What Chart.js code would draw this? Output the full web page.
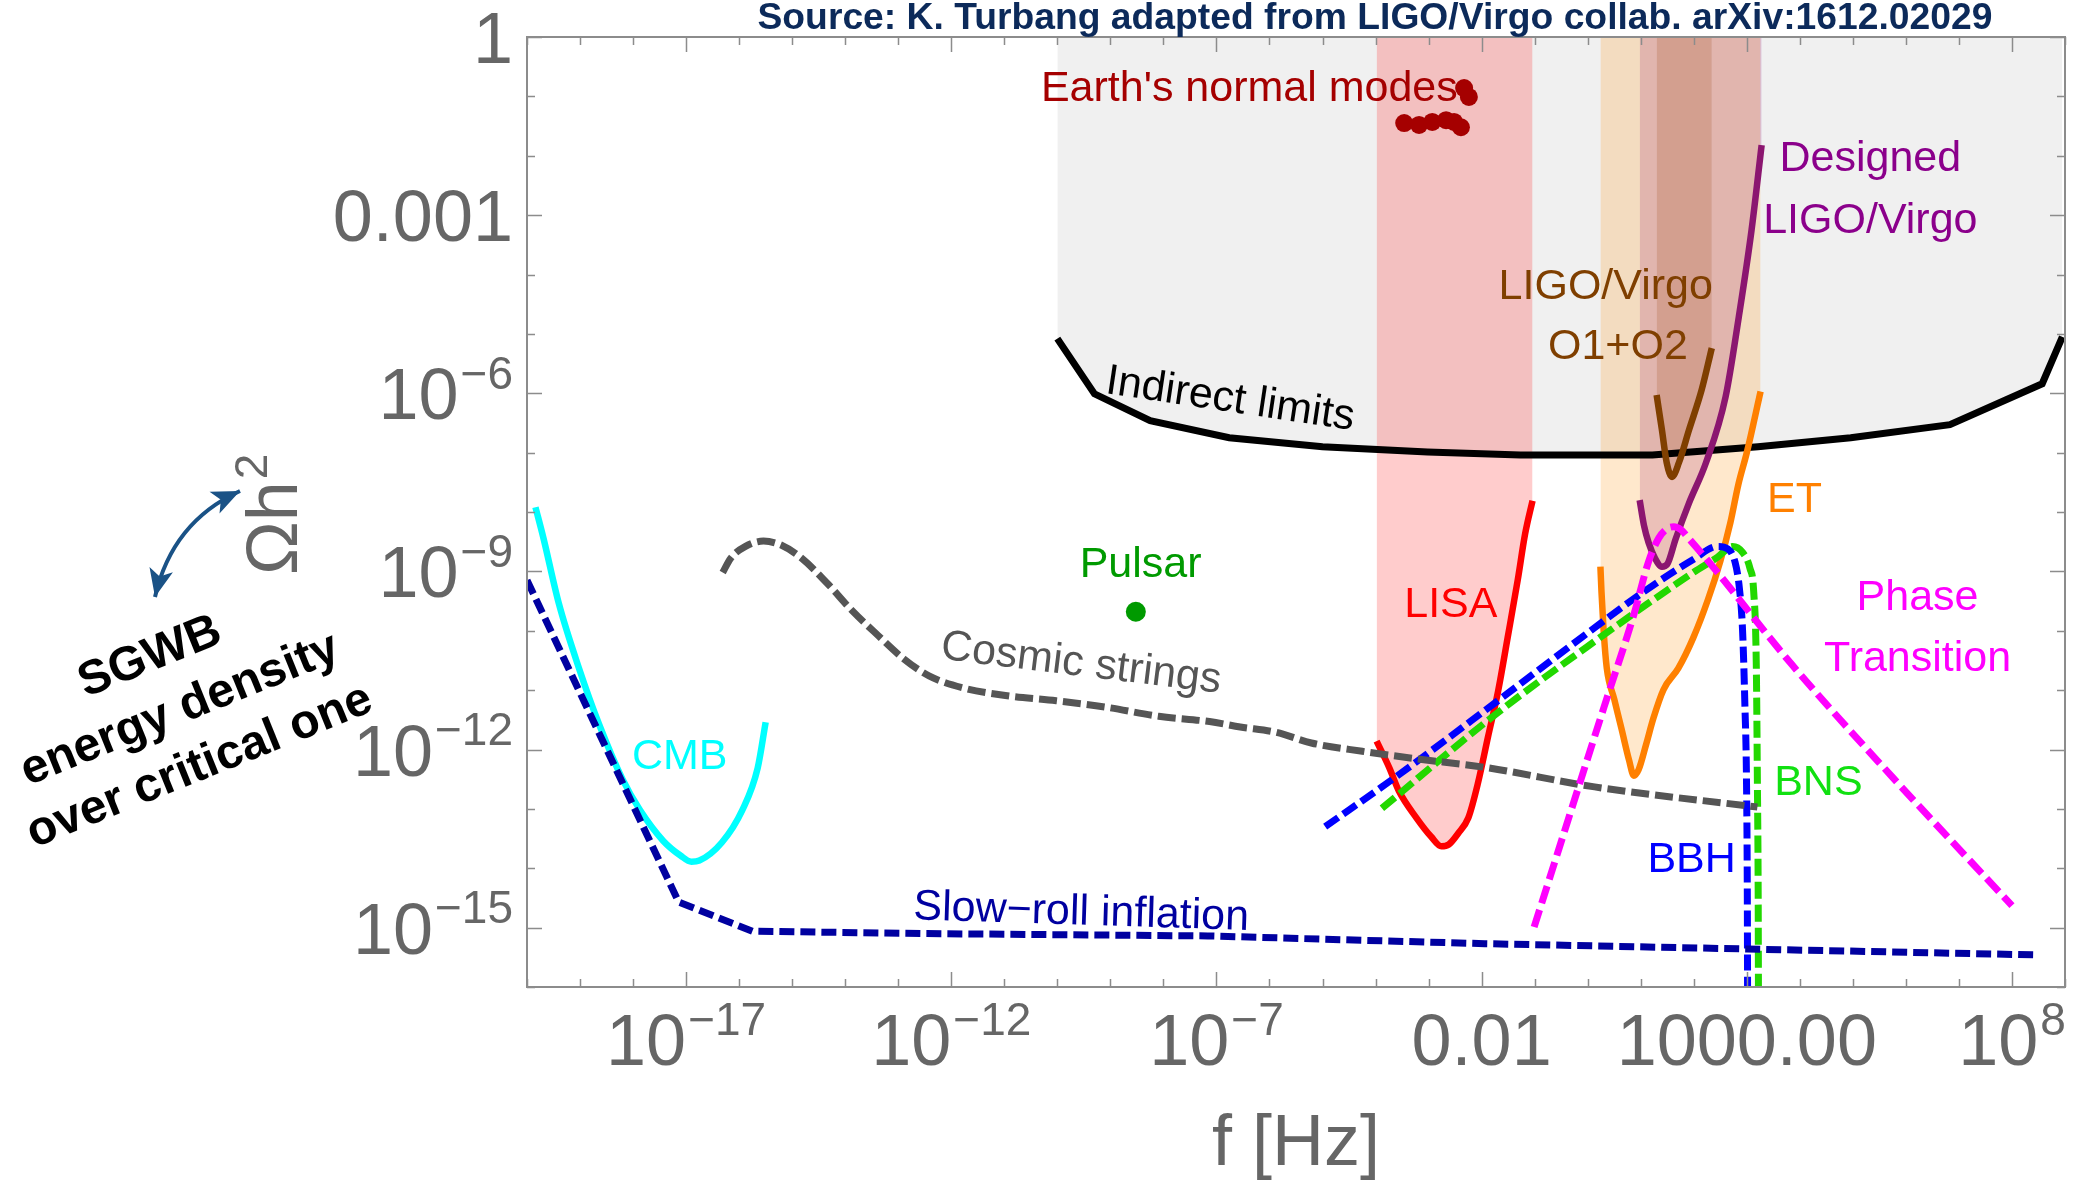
<!DOCTYPE html>
<html>
<head>
<meta charset="utf-8">
<script src="https://cdn.jsdelivr.net/npm/chart.js@4.4.1/dist/chart.umd.min.js"></script>
<style>
  html, body { margin: 0; padding: 0; background: #fff; }
  canvas { display: block; }
</style>
</head>
<body>
<canvas id="gw" width="2075" height="1186"></canvas>
<script>
// every point is [log10 f (Hz), log10 Omega h^2]
const INDIRECT = [[-10.0,-5.08],[-9.30,-6.01],[-8.25,-6.46],[-6.76,-6.75],[-5.0,-6.90],[-3.02,-6.99],[-1.27,-7.04],[1.22,-7.04],[3.21,-6.90],[4.96,-6.75],[6.83,-6.53],[8.57,-5.84],[8.95,-5.05]]
const SLOWROLL = [[-20.0,-9.15],[-17.14,-14.57],[-15.75,-15.06],[-12.5,-15.10],[-7.16,-15.14],[-1.94,-15.27],[3.0,-15.36],[8.47,-15.46]]
const CMB = [[-19.84,-7.92],[-19.69,-8.44],[-19.40,-9.54],[-19.02,-10.63],[-18.63,-11.60],[-18.20,-12.50],[-17.87,-13.02],[-17.43,-13.54],[-17.10,-13.79],[-16.90,-13.89],[-16.75,-13.87],[-16.33,-13.57],[-15.94,-13.02],[-15.65,-12.31],[-15.50,-11.54]]
const COSMIC = [[-16.31,-9.02],[-16.16,-8.78],[-15.88,-8.58],[-15.54,-8.49],[-15.20,-8.56],[-14.82,-8.78],[-14.34,-9.20],[-13.86,-9.67],[-13.38,-10.08],[-12.90,-10.47],[-12.42,-10.76],[-11.74,-10.97],[-10.98,-11.09],[-10.02,-11.18],[-9.06,-11.29],[-8.09,-11.44],[-7.13,-11.53],[-6.55,-11.62],[-5.88,-11.71],[-5.21,-11.89],[-4.25,-12.03],[-3.29,-12.15],[-1.94,-12.30],[0.13,-12.63],[3.20,-12.97]]
const LISA = [[-3.98,-11.86],[-3.74,-12.31],[-3.56,-12.70],[-3.23,-13.15],[-2.95,-13.47],[-2.76,-13.63],[-2.62,-13.60],[-2.44,-13.41],[-2.25,-13.15],[-2.07,-12.57],[-1.88,-11.79],[-1.69,-11.02],[-1.51,-10.12],[-1.32,-9.15],[-1.18,-8.37],[-1.04,-7.81]]
const ET = [[0.24,-8.92],[0.26,-9.34],[0.30,-9.99],[0.36,-10.63],[0.50,-11.15],[0.64,-11.66],[0.78,-12.18],[0.87,-12.44],[0.96,-12.34],[1.10,-11.92],[1.24,-11.47],[1.43,-10.99],[1.71,-10.63],[1.99,-10.12],[2.27,-9.47],[2.50,-8.83],[2.69,-8.18],[2.84,-7.54],[3.0,-7.0],[3.26,-5.97]]
const DESIGNED = [[0.98,-7.80],[1.06,-8.22],[1.15,-8.52],[1.27,-8.78],[1.40,-8.92],[1.50,-8.88],[1.66,-8.45],[1.91,-7.85],[2.23,-7.17],[2.60,-6.06],[2.85,-4.71],[3.09,-3.25],[3.28,-1.82]]
const O1O2 = [[1.30,-6.03],[1.40,-6.62],[1.49,-7.17],[1.59,-7.41],[1.72,-7.17],[1.91,-6.62],[2.15,-5.94],[2.34,-5.24]]
const BBH = [[-4.95,-13.30],[-3.60,-12.45],[-1.74,-11.21],[0.13,-9.95],[1.06,-9.34],[1.99,-8.80],[2.45,-8.58],[2.64,-8.62],[2.78,-8.85],[2.86,-9.28],[2.92,-9.99],[2.965,-11.28],[2.995,-12.57],[3.01,-14.5],[3.015,-16.2]]
const BNS = [[-3.88,-12.99],[-1.74,-11.41],[0.13,-10.18],[1.99,-9.02],[2.45,-8.76],[2.73,-8.58],[2.92,-8.68],[3.06,-8.95],[3.13,-9.34],[3.18,-10.63],[3.20,-12.57],[3.215,-14.5],[3.22,-16.2]]
const PHASE = [[-1.01,-14.99],[0.31,-11.28],[0.87,-9.73],[1.15,-8.83],[1.34,-8.44],[1.50,-8.28],[1.62,-8.25],[1.76,-8.30],[1.90,-8.44],[2.20,-8.75],[2.45,-9.02],[3.85,-10.57],[5.72,-12.44],[8.0,-14.63]]
const PULSAR = [[-8.52,-9.68]]
const EARTH = [[-3.46,-1.45],[-3.18,-1.48],[-2.93,-1.43],[-2.67,-1.40],[-2.52,-1.43],[-2.39,-1.52],[-2.33,-0.86],[-2.24,-1.01]]

// tick labels: [exponent, base text, superscript]
const X_TICKS = [[-17,'10','−17'],[-12,'10','−12'],[-7,'10','−7'],[-2,'0.01',''],[3,'1000.00',''],[8,'10','8']]
const Y_TICKS = [[0,'1',''],[-3,'0.001',''],[-6,'10','−6'],[-9,'10','−9'],[-12,'10','−12'],[-15,'10','−15']]

// curve labels: [text, log f, log Omega, colour, rotation in degrees]
const LABELS = [
  ["Earth's normal modes", -6.38, -0.88, '#a50000', 0],
  ['Designed', 5.33, -2.05, '#8b008b', 0],
  ['LIGO/Virgo', 5.33, -3.10, '#8b008b', 0],
  ['LIGO/Virgo', 0.34, -4.21, '#7f3f00', 0],
  ['O1+O2', 0.57, -5.22, '#7f3f00', 0],
  ['Indirect limits', -6.74, -6.11, '#000000', 8.5],
  ['ET', 3.90, -7.80, '#ff8000', 0],
  ['Pulsar', -8.43, -8.89, '#009a00', 0],
  ['LISA', -2.58, -9.57, '#ff0000', 0],
  ['Phase', 6.22, -9.45, '#ff00ff', 0],
  ['Transition', 6.22, -10.48, '#ff00ff', 0],
  ['Cosmic strings', -9.55, -10.56, '#555555', 7],
  ['CMB', -17.12, -12.13, '#00ffff', 0],
  ['BNS', 4.35, -12.56, '#11e011', 0],
  ['BBH', 1.96, -13.86, '#0000ff', 0],
  ['Slow−roll inflation', -9.55, -14.75, '#0000a0', 1.8]
]

const SANS = "'Liberation Sans', Arial, sans-serif"
const pts = arr => arr.map(([lf, lo]) => ({ x: 10 ** lf, y: 10 ** lo }))

function curve(data, color, width, dash, extra) {
  return Object.assign({
    data: pts(data),
    borderColor: color,
    borderWidth: width,
    borderDash: dash || [],
    pointRadius: 0,
    fill: false,
    cubicInterpolationMode: 'monotone',
  }, extra || {})
}

function dots(data, color, r) {
  return {
    data: pts(data),
    showLine: false,
    pointRadius: r,
    pointBorderWidth: 0,
    pointBackgroundColor: color,
    borderColor: color,
  }
}

// "10" with a raised exponent
function supText(ctx, base, sup, x, y, align, size) {
  const ss = Math.round(size * 0.64)
  ctx.font = size + 'px ' + SANS
  const wb = ctx.measureText(base).width
  ctx.font = ss + 'px ' + SANS
  const ws = sup ? ctx.measureText(sup).width + 2 : 0
  const w = wb + ws
  const x0 = align === 'right' ? x - w : align === 'center' ? x - w / 2 : x
  ctx.textAlign = 'left'
  ctx.textBaseline = 'alphabetic'
  ctx.font = size + 'px ' + SANS
  ctx.fillText(base, x0, y)
  if (sup) {
    ctx.font = ss + 'px ' + SANS
    ctx.fillText(sup, x0 + wb + 2, y - size * 0.42)
  }
}

function arrowHead(ctx, tip, from, len, half) {
  const dx = tip[0] - from[0], dy = tip[1] - from[1]
  const d = Math.hypot(dx, dy)
  const ux = dx / d, uy = dy / d
  const bx = tip[0] - ux * len, by = tip[1] - uy * len
  ctx.beginPath()
  ctx.moveTo(tip[0], tip[1])
  ctx.lineTo(bx - uy * half, by + ux * half)
  ctx.lineTo(tip[0] - ux * len * 0.75, tip[1] - uy * len * 0.75)
  ctx.lineTo(bx + uy * half, by - ux * half)
  ctx.closePath()
  ctx.fill()
}

const decorations = {
  id: 'decorations',
  afterDatasetsDraw(chart) {
    const { ctx, chartArea: a, scales: { x, y } } = chart
    ctx.save()

    // frame with inward ticks on all four sides
    ctx.strokeStyle = '#8c8c8c'
    ctx.lineWidth = 2
    ctx.strokeRect(a.left, a.top, a.right - a.left, a.bottom - a.top)
    ctx.lineWidth = 1.5
    ctx.beginPath()
    for (let k = -20; k <= 9; k++) {
      const px = Math.round(x.getPixelForValue(10 ** k)) + 0.5
      const len = (k + 17) % 5 === 0 ? 15 : 8
      ctx.moveTo(px, a.bottom); ctx.lineTo(px, a.bottom - len)
      ctx.moveTo(px, a.top); ctx.lineTo(px, a.top + len)
    }
    for (let k = -16; k <= 0; k++) {
      const py = Math.round(y.getPixelForValue(10 ** k)) + 0.5
      const len = k % 3 === 0 ? 15 : 8
      ctx.moveTo(a.left, py); ctx.lineTo(a.left + len, py)
      ctx.moveTo(a.right, py); ctx.lineTo(a.right - len, py)
    }
    ctx.stroke()

    // tick labels
    ctx.fillStyle = '#666666'
    X_TICKS.forEach(([k, b, s]) => supText(ctx, b, s, x.getPixelForValue(10 ** k), a.bottom + 78, 'center', 72))
    Y_TICKS.forEach(([k, b, s]) => supText(ctx, b, s, a.left - 14, y.getPixelForValue(10 ** k) + 26, 'right', 72))

    // axis titles
    ctx.font = '72px ' + SANS
    ctx.textAlign = 'center'
    ctx.textBaseline = 'middle'
    ctx.fillText('f [Hz]', (a.left + a.right) / 2, a.bottom + 158)
    ctx.save()
    ctx.translate(a.left - 230, 575)
    ctx.rotate(-Math.PI / 2)
    supText(ctx, 'Ωh', '2', 0, 0, 'left', 72)
    ctx.restore()

    // source line
    ctx.font = 'bold 37px ' + SANS
    ctx.fillStyle = '#0c2a5a'
    ctx.textAlign = 'center'
    ctx.textBaseline = 'middle'
    const src = 'Source: K. Turbang adapted from LIGO/Virgo collab. arXiv:1612.02029'
    const sw = ctx.measureText(src).width
    ctx.save()
    ctx.translate(1375, 19)
    ctx.scale(1235 / sw, 1)
    ctx.fillText(src, 0, 0)
    ctx.restore()

    // curve labels
    ctx.font = '43px ' + SANS
    LABELS.forEach(([t, lf, lo, c, rot]) => {
      ctx.save()
      ctx.translate(x.getPixelForValue(10 ** lf), y.getPixelForValue(10 ** lo))
      ctx.rotate(rot * Math.PI / 180)
      ctx.fillStyle = c
      ctx.fillText(t, 0, 0)
      ctx.restore()
    })

    // annotation on the left
    ctx.save()
    ctx.translate(180, 710)
    ctx.rotate(-22 * Math.PI / 180)
    ctx.fillStyle = '#000'
    ctx.font = 'bold 48px ' + SANS
    ctx.fillText('SGWB', -8, -60)
    ctx.fillText('energy density', 0, 0)
    ctx.fillText('over critical one', -3, 60)
    ctx.restore()

    const p0 = [155, 597], c0 = [172, 522], p2 = [240, 491]
    ctx.strokeStyle = '#1a5286'
    ctx.fillStyle = '#1a5286'
    ctx.lineWidth = 4
    ctx.beginPath()
    ctx.moveTo(p0[0], p0[1])
    ctx.quadraticCurveTo(c0[0], c0[1], p2[0], p2[1])
    ctx.stroke()
    arrowHead(ctx, p0, c0, 28, 12)
    arrowHead(ctx, p2, c0, 28, 12)

    ctx.restore()
  }
}

// first dataset is drawn on top
const datasets = [
  dots(EARTH, '#a50000', 9),
  dots(PULSAR, '#009a00', 10),
  curve(SLOWROLL, '#0000a0', 7, [15, 6], { cubicInterpolationMode: 'default', tension: 0 }),
  curve(PHASE, '#ff00ff', 7, [18, 7]),
  curve(COSMIC, '#555555', 7, [18, 6]),
  curve(BBH, '#0000ff', 7, [16, 6]),
  curve(BNS, '#22d800', 7, [17, 6]),
  curve(CMB, '#00ffff', 6.5),
  curve(LISA, '#ff0000', 6.5, null, { fill: 'end', backgroundColor: 'rgba(255,0,0,0.2)' }),
  curve(ET, '#ff8000', 6.5, null, { fill: 'end', backgroundColor: 'rgba(255,140,0,0.2)' }),
  curve(DESIGNED, '#8b1670', 6.5, null, { fill: 'end', backgroundColor: 'rgba(128,0,128,0.2)' }),
  curve(O1O2, '#7f3f00', 6.5, null, { fill: 'end', backgroundColor: 'rgba(128,64,0,0.2)' }),
  curve(INDIRECT, '#000000', 7, null, { cubicInterpolationMode: 'default', tension: 0 }),
  curve(INDIRECT, 'rgba(0,0,0,0)', 0, null, { cubicInterpolationMode: 'default', tension: 0, fill: 'end', backgroundColor: '#f0f0f0' }),
]

new Chart(document.getElementById('gw'), {
  type: 'line',
  data: { datasets },
  options: {
    responsive: false,
    animation: false,
    devicePixelRatio: 1,
    events: [],
    layout: { padding: { left: 527, top: 37, right: 9, bottom: 199 } },
    plugins: {
      legend: { display: false },
      tooltip: { enabled: false },
      filler: { drawTime: 'beforeDatasetsDraw' },
    },
    scales: {
      x: {
        type: 'logarithmic',
        min: 1e-20,
        max: 1e9,
        ticks: { display: false },
        grid: { display: false, drawTicks: false },
        border: { display: false },
      },
      y: {
        type: 'logarithmic',
        min: 1e-16,
        max: 1,
        ticks: { display: false },
        grid: { display: false, drawTicks: false },
        border: { display: false },
      },
    },
  },
  plugins: [decorations],
})
</script>
</body>
</html>
